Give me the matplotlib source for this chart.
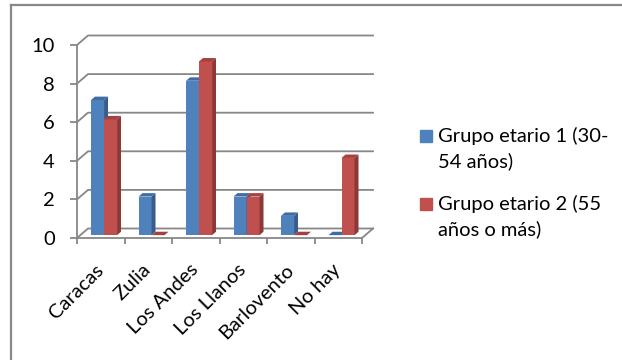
import numpy as np
import matplotlib
matplotlib.use("Agg")
import matplotlib.pyplot as plt
from matplotlib.patches import Polygon, Rectangle
from matplotlib.lines import Line2D

plt.rcParams['font.family'] = ['Lato', 'DejaVu Sans']

# данные
categorias = ["Caracas", "Zulia", "Los Andes", "Los Llanos", "Barlovento", "No hay"]
grupo1 = [7, 2, 8, 2, 1, 0]
grupo2 = [6, 0, 9, 2, 0, 4]
series = [grupo1, grupo2]
leyenda = [["Grupo etario 1 (30-", "54 años)"], ["Grupo etario 2 (55", "años o más)"]]
y_ticks = [0, 2, 4, 6, 8, 10]

W, H = 622, 360
fs = 14.5
fig = plt.figure(figsize=(W / 100, H / 100), dpi=100)

# оси в пикселях: фронтальная плоскость
px_cat = 47.5   # пикселей на категорию
px_y = 19.3     # пикселей на единицу
left, bottom, aw, ah = 77, 238, 303, 208
ax = fig.add_axes([left / W, 1 - bottom / H, aw / W, ah / H])
ax.set_xlim(-0.5, -0.5 + aw / px_cat)
ax.set_ylim(0, ah / px_y)
ax.patch.set_visible(False)

DX = 11 / px_cat   # глубина стенки
DY = 9.5 / px_y
f = 0.3            # где стоит передняя грань столбиков
bd = 0.36          # глубина столбика
w = 13 / px_cat
grid_c = "#878787"

# задняя стенка и боковая стенка
x0, x1 = -0.5, len(categorias) - 0.5
for yt in y_ticks:
    ax.plot([x0, x0 + DX, x1 + DX], [yt, yt + DY, yt + DY], color=grid_c, lw=1.3, zorder=1)
ax.plot([x1, x1 + DX], [0, DY], color=grid_c, lw=1.3, zorder=1)

face = ["#4F81BD", "#C0504D"]
side = ["#385D8A", "#8C3836"]
top = ["#3F6CA3", "#A5413E"]

for i in range(len(categorias)):
    for s, vals in enumerate(series):
        v = vals[i]
        xl = i + f * DX + (s - 1) * w
        yb = f * DY
        ax.bar(xl, v, width=w, bottom=yb, align="edge", color=face[s], lw=0, zorder=3)
        ddx, ddy = bd * DX, bd * DY
        ax.add_patch(Polygon([(xl + w, yb), (xl + w + ddx, yb + ddy), (xl + w + ddx, yb + v + ddy),
                              (xl + w, yb + v)], closed=True, color=side[s], lw=0, zorder=3))
        ax.add_patch(Polygon([(xl, yb + v), (xl + ddx, yb + v + ddy), (xl + w + ddx, yb + v + ddy),
                              (xl + w, yb + v)], closed=True, color=top[s], lw=0, zorder=3))

# оси
for sp in ["top", "right"]:
    ax.spines[sp].set_visible(False)
for sp in ["left", "bottom"]:
    ax.spines[sp].set_color(grid_c)
    ax.spines[sp].set_linewidth(1.3)
    ax.spines[sp].set_zorder(4)
ax.spines["left"].set_bounds(0, 10)
ax.spines["bottom"].set_bounds(x0, x1)

ax.set_yticks(y_ticks)
ax.tick_params(axis="y", length=5, width=1.3, color=grid_c, labelsize=fs, pad=11)
ax.set_xticks(np.arange(len(categorias) + 1) - 0.5, minor=True)
ax.tick_params(axis="x", which="minor", length=4, width=1.3, color=grid_c)
ax.set_xticks(range(len(categorias)))
ax.set_xticklabels(categorias, rotation=45, ha="right", va="center", rotation_mode="anchor")
ax.tick_params(axis="x", which="major", length=0, labelsize=fs, pad=21)

# легенда
for s, lines in enumerate(leyenda):
    y0 = 136 + s * 68
    fig.add_artist(Rectangle((420 / W, 1 - (y0 + 6) / H), 12 / W, 12 / H, color=face[s],
                             transform=fig.transFigure))
    for k, t in enumerate(lines):
        fig.text(438 / W, 1 - (y0 + k * 25) / H, t, fontsize=fs, va="center", ha="left")

# рамка
fig.add_artist(Line2D([11 / W, 11 / W], [0, 1 - 5 / H], color="#888888", lw=1.6))
fig.add_artist(Line2D([11 / W, 1], [1 - 5 / H, 1 - 5 / H], color="#888888", lw=1.6))

fig.savefig("out.png", dpi=100, facecolor="white")
